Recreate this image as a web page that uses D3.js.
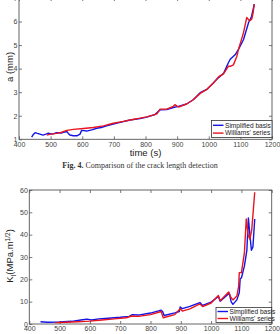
<!DOCTYPE html>
<html><head><meta charset="utf-8">
<script src="https://cdn.jsdelivr.net/npm/d3@7"></script>
<style>
html,body{margin:0;padding:0;background:#fff;}
svg{display:block;}
</style></head>
<body>
<svg id="c" width="280" height="334"></svg>
<script>
// ---------- DATA ----------
const xTicks = [400, 500, 600, 700, 800, 900, 1000, 1100, 1200];
const yTicksA = [1, 2, 3, 4, 5, 6, 7];
const yTicksK = [0, 10, 20, 30, 40, 50, 60];
const seriesNames = ["Simplified basis", "Williams' series"];

// Fig 4: crack length a (mm) vs time (s)
const tBlueA = [440,445,451,458,466,476,485,493,505,519,535,551,556,561,572,583,593,598,605,614,630,646,660,677,698,720,751,783,804,830,846,867,888,904,930,951,973,994,1015,1031,1047,1062,1068,1084,1094,1110,1126,1135,1144];
const aBlue  = [1.09,1.2,1.28,1.25,1.22,1.18,1.22,1.26,1.22,1.28,1.27,1.33,1.25,1.18,1.15,1.15,1.22,1.38,1.37,1.35,1.4,1.47,1.5,1.57,1.65,1.72,1.82,1.88,1.94,2.05,2.25,2.26,2.35,2.4,2.5,2.68,2.98,3.12,3.4,3.62,3.8,4.25,4.4,4.6,4.82,5.24,5.96,6.2,6.74];
const tRedA  = [488,500,519,535,551,572,604,635,667,698,730,751,783,804,836,846,867,888,893,904,930,951,973,994,1015,1031,1047,1062,1068,1078,1089,1094,1110,1120,1129,1136,1140,1144];
const aRed   = [1.18,1.22,1.25,1.3,1.38,1.42,1.46,1.5,1.57,1.68,1.76,1.82,1.9,1.95,2.08,2.28,2.28,2.4,2.47,2.37,2.5,2.68,2.95,3.12,3.39,3.65,3.79,4.1,4.1,4.16,4.53,4.82,5.53,6.17,6.03,6.1,6.35,6.74];

// K_I (MPa.m^1/2) vs time (s)
const tBlueK = [437,460,500,540,570,590,605,630,660,700,730,740,760,800,835,840,845,880,895,898,905,930,963,972,1000,1024,1030,1060,1066,1072,1085,1093,1096,1100,1110,1118,1123,1128,1133,1138,1144];
const kBlue  = [1.0,0.8,0.9,1.2,1.8,2.2,1.8,2.3,2.6,3.0,3.4,4.2,4.0,4.9,6.2,5.6,3.8,5.0,5.6,7.6,6.9,7.9,9.6,8.3,9.8,12.3,10.2,13.8,10.0,8.8,10.8,14.0,20.3,20.6,26,33,47.5,40,33,34.5,47];
const tRedK  = [485,520,560,600,640,680,720,738,760,800,835,842,880,898,905,930,963,972,1000,1024,1030,1058,1065,1072,1085,1091,1093,1100,1110,1116,1122,1128,1134,1144];
const kRed   = [0.6,0.8,1.0,1.3,1.8,2.3,2.8,3.6,3.4,4.2,5.6,2.8,4.2,6.8,5.8,6.8,9.0,7.8,9.4,12.8,10.4,14.3,12,10.8,12.5,17,23,23,32,47,40,38,42,59];

// ---------- DRAW ----------
const svg = d3.select("#c");
const BLUE = "#1414e6", RED = "#e8141e", AX = "#555";
const tickFont = "7px 'Liberation Sans', Arial, sans-serif";

function panel(o) {
  const x = d3.scaleLinear().domain([400, 1200]).range([o.left, o.right]);
  const y = d3.scaleLinear().domain(o.yDomain).range([o.bottom, o.top]);
  const g = svg.append("g");
  const ticksz = 3;
  // box
  g.append("rect").attr("x", o.left).attr("y", o.top)
    .attr("width", o.right - o.left).attr("height", o.bottom - o.top)
    .attr("fill", "#fff").attr("stroke", AX).attr("stroke-width", 0.9);
  const ax = (gen, tr) => {
    const a = g.append("g").attr("transform", tr).call(gen);
    a.select(".domain").remove();
    a.selectAll(".tick line").attr("stroke", AX).attr("stroke-width", 0.8);
    a.selectAll("text").style("font", tickFont).attr("fill", "#444");
    return a;
  };
  ax(d3.axisBottom(x).tickValues(xTicks).tickSize(-ticksz).tickPadding(2.5).tickFormat(d3.format("d")),
     `translate(0,${o.bottom})`);
  ax(d3.axisTop(x).tickValues(xTicks).tickSize(-ticksz).tickFormat(""), `translate(0,${o.top})`);
  ax(d3.axisLeft(y).tickValues(o.yTicks).tickSize(-ticksz).tickPadding(1.5).tickFormat(d3.format("d")),
     `translate(${o.left},0)`);
  ax(d3.axisRight(y).tickValues(o.yTicks).tickSize(-ticksz).tickFormat(""), `translate(${o.right},0)`);

  const line = d3.line().x(d => x(d[0])).y(d => y(d[1]));
  const clipId = "clip" + o.id;
  svg.append("clipPath").attr("id", clipId).append("rect")
    .attr("x", o.left).attr("y", o.top - 3).attr("width", o.right - o.left).attr("height", o.bottom - o.top + 3);
  const lg = g.append("g").attr("clip-path", `url(#${clipId})`);
  lg.append("path").datum(d3.zip(o.tB, o.vB)).attr("d", line)
    .attr("fill", "none").attr("stroke", BLUE).attr("stroke-width", 1.4).attr("stroke-linejoin", "round");
  lg.append("path").datum(d3.zip(o.tR, o.vR)).attr("d", line)
    .attr("fill", "none").attr("stroke", RED).attr("stroke-width", 1.4).attr("stroke-linejoin", "round");

  // axis labels
  g.append("text").attr("x", (o.left + o.right) / 2).attr("y", o.bottom + o.xlabOff)
    .attr("text-anchor", "middle").style("font", "9.5px 'Liberation Sans', Arial, sans-serif")
    .attr("fill", "#222").text("time (s)");
  const yl = g.append("text").attr("transform", `translate(${o.ylabX},${o.ylabY}) rotate(-90)`)
    .attr("text-anchor", "middle").style("font", "9.5px 'Liberation Sans', Arial, sans-serif")
    .attr("fill", "#222");
  o.ylab(yl);

  // legend
  const L = o.legend;
  const lgd = g.append("g");
  lgd.append("rect").attr("x", L.x).attr("y", L.y).attr("width", L.w).attr("height", L.h)
    .attr("fill", "#fff").attr("stroke", "#333").attr("stroke-width", 0.8);
  seriesNames.forEach((name, i) => {
    const yy = L.y + L.pad + i * L.dy;
    lgd.append("line").attr("x1", L.x + 1.5).attr("x2", L.x + 12).attr("y1", yy).attr("y2", yy)
      .attr("stroke", i === 0 ? BLUE : RED).attr("stroke-width", 1.4);
    lgd.append("text").attr("x", L.x + 13.5).attr("y", yy + 2.3)
      .style("font", "6.6px 'Liberation Sans', Arial, sans-serif").attr("fill", "#222").text(name);
  });
}

panel({
  id: "a", left: 19, right: 272, top: -2, bottom: 139.3, yDomain: [1, 7], yTicks: yTicksA,
  tB: tBlueA, vB: aBlue, tR: tRedA, vR: aRed, xlabOff: 16.5,
  ylabX: 13, ylabY: 67,
  ylab: t => t.text("a (mm)"),
  legend: {x: 211.5, y: 120.5, w: 60.5, h: 17, pad: 4.8, dy: 7.8}
});

svg.append("text").attr("x", 140).attr("y", 168).attr("text-anchor", "middle")
  .style("font", "8px 'Liberation Serif', 'Times New Roman', serif").attr("fill", "#333")
  .call(t => {
    t.append("tspan").attr("font-weight", "bold").text("Fig. 4.");
    t.append("tspan").text(" Comparison of the crack length detection");
  });

panel({
  id: "k", left: 29.3, right: 271.7, top: 190, bottom: 324, yDomain: [0, 60], yTicks: yTicksK,
  tB: tBlueK, vB: kBlue, tR: tRedK, vR: kRed, xlabOff: 17,
  ylabX: 13, ylabY: 256,
  ylab: t => {
    t.append("tspan").text("K");
    t.append("tspan").attr("dy", 2.5).style("font-size", "6.5px").text("I");
    t.append("tspan").attr("dy", -2.5).text("(MPa.m");
    t.append("tspan").attr("dy", -3.5).style("font-size", "6.5px").text("1/2");
    t.append("tspan").attr("dy", 3.5).text(")");
  },
  legend: {x: 216, y: 307.5, w: 55.7, h: 15, pad: 4, dy: 7}
});
</script>
</body></html>
